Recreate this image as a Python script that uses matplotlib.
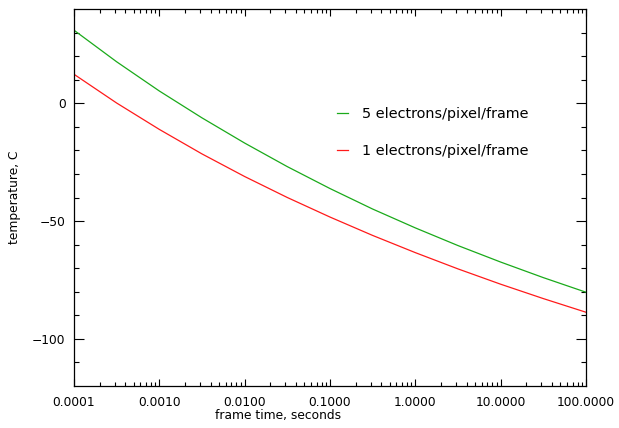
import numpy as np
import matplotlib
matplotlib.use('Agg')
from matplotlib import pyplot as plt
from matplotlib.ticker import FixedLocator, NullFormatter

# frame time (s), read at half-decade steps
frame_time = [1e-4, 3.16e-4, 1e-3, 3.16e-3, 1e-2, 3.16e-2, 1e-1, 3.16e-1, 1.0, 3.16, 10.0, 31.6, 100.0]

# temperature (C) for each dark-current level
temp_5e = [31.0, 17.6, 5.2, -6.2, -16.9, -26.9, -36.2, -44.9, -52.9, -60.4, -67.4, -74.0, -80.2]
temp_1e = [12.3, 0.1, -11.1, -21.5, -31.1, -40.0, -48.3, -56.1, -63.4, -70.3, -76.8, -82.9, -88.7]

xtick_vals = [1e-4, 1e-3, 1e-2, 1e-1, 1, 10, 100]
xtick_labels = ['0.0001', '0.0010', '0.0100', '0.1000', '1.0000', '10.0000', '100.0000']
ytick_vals = [-100, -50, 0]

plt.rcParams['font.family'] = 'DejaVu Sans'
plt.rcParams['font.size'] = 8.8

fig = plt.figure(figsize=(6.19, 4.28), dpi=100)
ax = fig.add_axes([74 / 619, 1 - 386 / 428, 512 / 619, 377 / 428])

ax.plot(frame_time, temp_5e, color='#1aaa1a', lw=0.9, label='5 electrons/pixel/frame')
ax.plot(frame_time, temp_1e, color='#ff1a1a', lw=0.9, label='1 electrons/pixel/frame')

ax.set_xscale('log')
ax.set_xlim(1e-4, 100)
ax.set_ylim(-120, 40)

ax.set_xticks(xtick_vals)
ax.set_xticklabels(xtick_labels)
minor = [m * 10.0 ** e for e in range(-4, 2) for m in range(2, 10)]
ax.xaxis.set_minor_locator(FixedLocator(minor))
ax.xaxis.set_minor_formatter(NullFormatter())
ax.set_yticks(ytick_vals)
ax.yaxis.set_minor_locator(FixedLocator(list(range(-110, 40, 10))))

ax.tick_params(which='both', direction='in', top=True, right=True, width=0.8)
ax.tick_params(axis='x', which='major', length=5, pad=7)
ax.tick_params(axis='x', which='minor', length=3)
ax.tick_params(axis='y', which='major', length=7, pad=6)
ax.tick_params(axis='y', which='minor', length=3.5)
for s in ax.spines.values():
    s.set_linewidth(0.9)

ax.set_xlabel('frame time, seconds')
ax.set_ylabel('temperature, C')
ax.xaxis.set_label_coords(0.399, -0.06)
ax.yaxis.set_label_coords(-0.104, 0.5)

ax.legend(loc='upper left', bbox_to_anchor=(0.513, 0.74), frameon=False,
          fontsize=10.4, handlelength=0.8, handletextpad=0.95, labelspacing=1.6,
          borderpad=0, borderaxespad=0)

plt.savefig('out.png', dpi=100)
